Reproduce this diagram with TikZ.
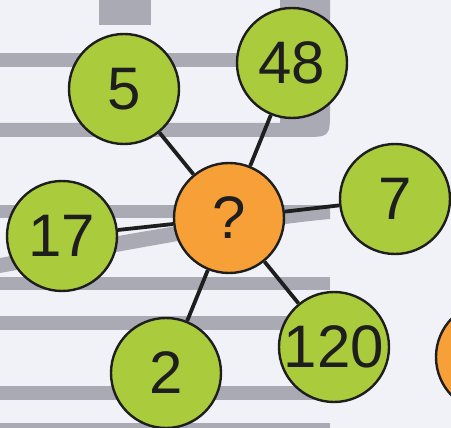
\documentclass[tikz,border=0pt]{standalone}
\usepackage{fontspec}
\setmainfont{Liberation Sans}
\definecolor{bgc}{HTML}{F1F2F8}
\definecolor{band}{HTML}{A9AAB4}
\definecolor{leaf}{HTML}{AACC3C}
\definecolor{hub}{HTML}{F7A038}
\definecolor{ink}{HTML}{1E1E1E}
\tikzset{
  bubble/.style={circle, draw=ink, line width=2.4pt, minimum size=110pt, inner sep=0pt,
     font=\fontsize{60}{60}\selectfont, text=ink},
  leafnode/.style={bubble, fill=leaf},
  hubnode/.style={bubble, fill=hub},
  conn/.style={draw=ink, line width=3.8pt},
  stripe/.style={fill=band}
}
\begin{document}
\begin{tikzpicture}[x=1pt,y=-1pt]
\useasboundingbox (0,0) rectangle (451,428);
\fill[bgc] (0,0) rectangle (451,428);
% background stripes
\fill[stripe] (99,0) rectangle (151,25);
\fill[stripe] (0,53) rectangle (300,67);
\fill[stripe] (280,0) -- (330,0) -- (330,110) .. controls (330,137) .. (303,137) -- (0,137) -- (0,123) -- (280,123) -- cycle;
\fill[stripe] (0,205) rectangle (330,218);
\fill[stripe] (0,258) .. controls (120,236) and (220,214) .. (330,211) -- (330,219) .. controls (250,226) and (130,250) .. (0,273) -- cycle;
\fill[stripe] (0,277) rectangle (330,290);
\fill[stripe] (0,316) rectangle (300,330);
\fill[stripe] (0,386) rectangle (330,400);
\fill[stripe] (0,423) rectangle (330,430);
% nodes
\node[hubnode] (q) at (229,218) {?};
\node[leafnode] (n5) at (124,89) {5};
\node[leafnode] (n48) at (292,63) {48};
\node[leafnode] (n7) at (395,199) {7};
\node[leafnode] (n17) at (62,236) {17};
\node[leafnode] (n2) at (166,373) {2};
\node[leafnode] (n120) at (334,347) {120};
\node[hubnode] (o) at (491,357) {};
% connectors
\draw[conn] (q) -- (n5);
\draw[conn] (q) -- (n48);
\draw[conn] (q) -- (n7);
\draw[conn] (q) -- (n17);
\draw[conn] (q) -- (n2);
\draw[conn] (q) -- (n120);
\end{tikzpicture}
\end{document}
